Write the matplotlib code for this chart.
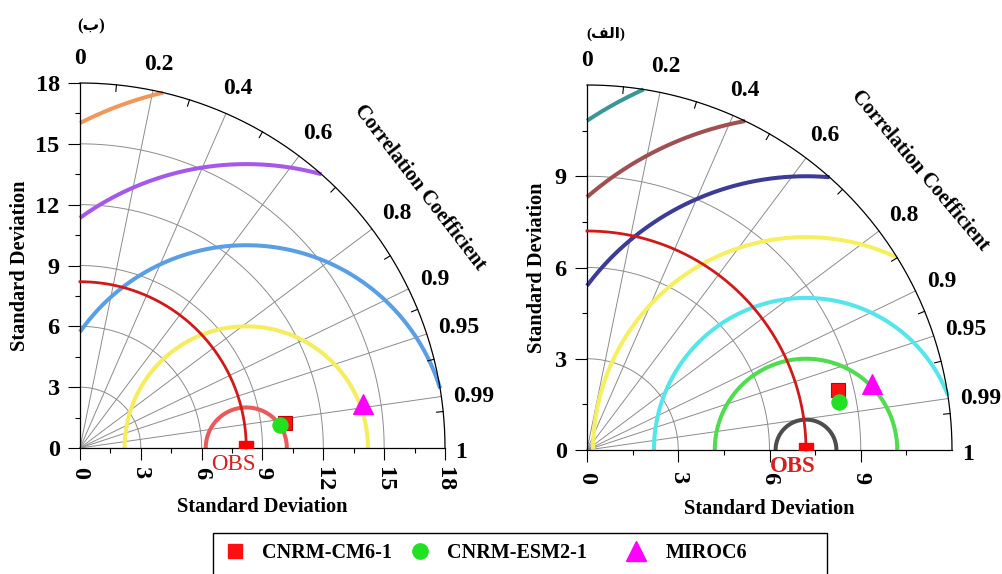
import numpy as np
import matplotlib
matplotlib.use('Agg')
import matplotlib.pyplot as plt
from matplotlib.lines import Line2D
from matplotlib.patches import Rectangle

plt.rcParams['font.family'] = ['Liberation Serif', 'DejaVu Sans']
plt.rcParams['font.weight'] = 'bold'

#=============== data ===============================
models = ['CNRM-CM6-1', 'CNRM-ESM2-1', 'MIROC6']
model_colors = ['#ff1010', '#22e022', '#ff00ff']
model_edges = ['#c00000', '#22e022', '#ff00ff']
model_markers = ['s', 'o', '^']
model_sizes = [10, 11, 14]

# panel (b), left
obs_b = 8.2
sd_b = [10.17, 9.93, 14.12]
cc_b = [0.9927, 0.9935, 0.988]
rms_b = [2, 6, 10, 14, 18]
rms_colors_b = ['#eb5a5a', '#f5ec5e', '#5a9fe6', '#a658e8', '#f0975a']
sd_ticks_b = [0, 3, 6, 9, 12, 15, 18]

# panel (a), right
obs_a = 7.2
sd_a = [8.48, 8.43, 9.62]
cc_a = [0.973, 0.982, 0.974]
rms_a = [1, 3, 5, 7, 9, 11, 13]
rms_colors_a = ['#4d4d4d', '#4fdc4f', '#55e6eb', '#f5f060', '#3c3c96', '#a05050', '#3c9696']
sd_ticks_a = [0, 3, 6, 9]

cc_labels = [0, 0.2, 0.4, 0.6, 0.8, 0.9, 0.95, 0.99, 1]
cc_minor = [0.1, 0.3, 0.5, 0.7, 0.85, 0.925, 0.97, 0.995]

# Arabic panel letters in visual (presentation form) order
title_b = '(\ufe8f)'
title_a = '(\ufed2\ufedf\ufe8d)'

W, H = 1003., 574.
GRID = '#8c8c8c'
REF = '#d21919'


def taylor(ax, rmax, sd_ticks, obs, sd, cc, rms, rms_colors, obs_weight, xpad, cc_pos):
	ax.set_xlim(0, rmax)
	ax.set_ylim(0, rmax)
	ax.patch.set_visible(False)
	for s in ['top', 'right']:
		ax.spines[s].set_visible(False)
	for s in ['left', 'bottom']:
		ax.spines[s].set_linewidth(0.9)

	minor = np.arange(1.5, rmax, 3.0)
	ax.set_xticks(sd_ticks)
	ax.set_yticks(sd_ticks)
	ax.set_xticks(minor, minor=True)
	ax.set_yticks(minor, minor=True)
	ax.set_xticklabels([str(v) for v in sd_ticks])
	ax.set_yticklabels([str(v) for v in sd_ticks])
	ax.tick_params(which='major', direction='out', length=8.6, width=0.8, labelsize=17.5)
	ax.tick_params(which='minor', direction='out', length=3.6, width=0.8)
	ax.tick_params(axis='y', which='major', pad=6)
	ax.tick_params(axis='x', which='major', pad=xpad, labelrotation=-90)

	#------ outer arc and sd grid -----
	t = np.linspace(0, np.pi/2, 300)
	ax.plot(rmax*np.cos(t), rmax*np.sin(t), color='black', lw=0.9, clip_on=False, zorder=3)
	for v in sd_ticks[1:]:
		if v < rmax:
			ax.plot(v*np.cos(t), v*np.sin(t), color=GRID, lw=0.7, clip_on=False, zorder=1)

	#------ correlation rays and ticks -----
	for c in cc_labels[1:-1]:
		th = np.arccos(c)
		ax.plot([0, rmax*np.cos(th)], [0, rmax*np.sin(th)], color=GRID, lw=0.7,
			clip_on=False, zorder=1)
	for c in cc_minor:
		th = np.arccos(c)
		ax.plot([0.982*rmax*np.cos(th), rmax*np.cos(th)], [0.982*rmax*np.sin(th), rmax*np.sin(th)],
			color='black', lw=0.8, clip_on=False, zorder=3)

	fs = 17
	for c in cc_labels:
		th = np.arccos(c)
		lab = '%g' % c
		w = sum(0.25*fs if ch == '.' else 0.5*fs for ch in lab)
		h = 0.7*fs
		d = 7 + 5*np.sin(th) + 0.5*w*abs(np.cos(th)) + 0.5*h*abs(np.sin(th))
		ax.annotate(lab, xy=(rmax*np.cos(th), rmax*np.sin(th)),
			xytext=(d*np.cos(th), d*np.sin(th) - 3*np.cos(th)), textcoords='offset points',
			ha='center', va='center', fontsize=fs, annotation_clip=False)

	thc = np.radians(cc_pos[0])
	ax.text(cc_pos[1]*rmax*np.cos(thc), cc_pos[1]*rmax*np.sin(thc), 'Correlation Coefficient',
		rotation=-(90-cc_pos[0]), rotation_mode='anchor', ha='center', va='center', fontsize=14.8)

	#------ centred rms contours -----
	for r, col in zip(rms, rms_colors):
		hi = np.arccos(max(-1.0, -obs/r))
		lo = np.arccos(min(1.0, (rmax**2 - obs**2 - r**2)/(2.*obs*r)))
		tt = np.linspace(lo, hi, 300)
		ax.plot(obs + r*np.cos(tt), r*np.sin(tt), color=col, lw=2.9, clip_on=False,
			solid_capstyle='butt', zorder=2)

	#------ reference -----
	ax.plot(obs*np.cos(t), obs*np.sin(t), color=REF, lw=2.0, clip_on=False, zorder=4)
	ax.plot([obs], [0], marker='s', ms=9.5, color='#ff0000', ls='none', zorder=5)
	ax.annotate('OBS', xy=(obs, 0), xytext=(-9.5, -12), textcoords='offset points',
		ha='center', va='center', fontsize=16.5, color='#d42020', weight=obs_weight,
		annotation_clip=False)

	#------ models -----
	for i in range(len(sd)):
		ax.plot([sd[i]*cc[i]], [sd[i]*np.sqrt(1 - cc[i]**2)], ls='none',
			marker=model_markers[i], ms=model_sizes[i], color=model_colors[i],
			mec=model_edges[i], mew=0.8, clip_on=False, zorder=6)

	ax.text(0.5, -0.163, 'Standard Deviation', transform=ax.transAxes,
		ha='center', va='center', fontsize=14.7)


fig = plt.figure(figsize=(W/100., H/100.), dpi=100)

ax_b = fig.add_axes([80/W, (H-448)/H, 365/W, 365/H])
taylor(ax_b, 18, sd_ticks_b, obs_b, sd_b, cc_b, rms_b, rms_colors_b, 'normal', 5, (37.5, 1.172))
ax_b.text(-0.164, 0.5, 'Standard Deviation', transform=ax_b.transAxes, rotation=90,
	ha='center', va='center', fontsize=14.7)
fig.text(91/W, 1-26/H, title_b, ha='center', va='center', fontsize=12)

ax_a = fig.add_axes([587/W, (H-450)/H, 365/W, 365/H])
taylor(ax_a, 12, sd_ticks_a, obs_a, sd_a, cc_a, rms_a, rms_colors_a, 'bold', 7, (40, 1.19))
ax_a.text(-0.137, 0.5, 'Standard Deviation', transform=ax_a.transAxes, rotation=90,
	ha='center', va='center', fontsize=14.7)
fig.text(606/W, 1-34/H, title_a, ha='center', va='center', fontsize=11)

#-------------- legend --------------------------
legend_x = [225, 410, 626]
for i in range(len(models)):
	h = Line2D([], [], ls='none', marker=model_markers[i], color=model_colors[i],
		mec=model_colors[i], ms=model_sizes[i])
	leg = fig.legend([h], [models[i]], loc='center left', bbox_to_anchor=(legend_x[i]/W, 1-553/H),
		frameon=False, fontsize=14.5, handlelength=1.0, handletextpad=0.85 + 0.1*(i == 2),
		borderpad=0, borderaxespad=0)
fig.add_artist(Rectangle((213/W, -6/H), 614/W, 47/H, transform=fig.transFigure,
	fill=False, ec='black', lw=1.0))

fig.savefig('out.png', dpi=100)
